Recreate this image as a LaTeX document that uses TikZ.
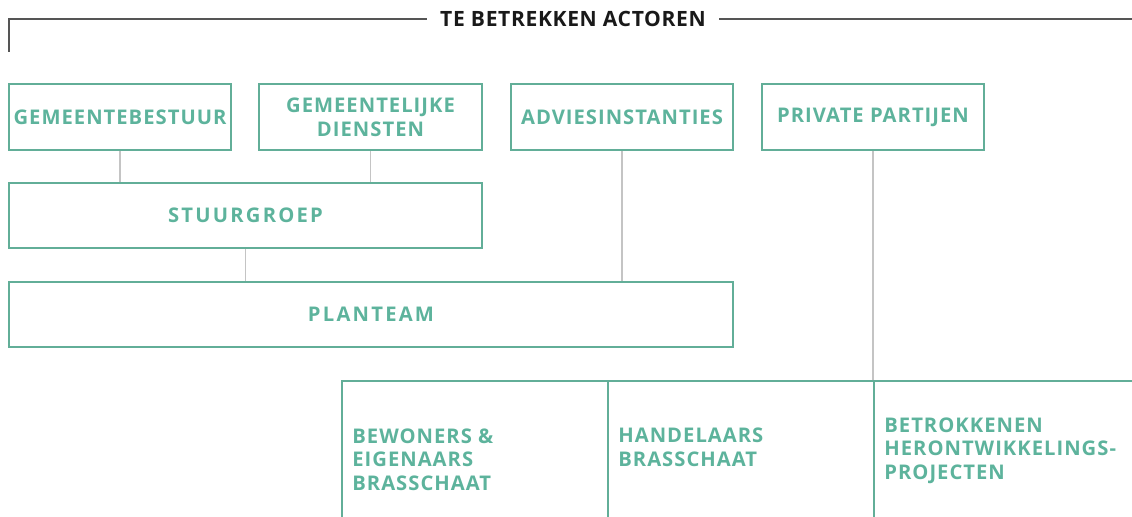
\documentclass[tikz,border=0pt]{standalone}
\usepackage{fontspec}
\newfontfamily\boxfont[LetterSpace=5]{Open Sans}
\newfontfamily\wideboxfont[LetterSpace=11]{Open Sans}
\newfontfamily\titlefont[LetterSpace=3]{Open Sans}
\definecolor{teal1}{HTML}{5DB39C}
\definecolor{tealline}{HTML}{62AE98}
\definecolor{conn}{HTML}{C4C4C4}
\definecolor{hdr}{HTML}{555555}
\tikzset{
  actor/.style={draw=tealline, line width=1.2pt, text=teal1, font=\boxfont\bfseries\fontsize{11.5}{13.6}\selectfont, align=center, inner sep=0pt, minimum height=1.32cm},
  wideactor/.style={actor, font=\wideboxfont\bfseries\fontsize{11.5}{13.6}\selectfont, minimum height=1.3cm},
  lowbox/.style={draw=tealline, line width=1.2pt, inner sep=0pt, anchor=north west, minimum height=4cm},
  lowtext/.style={text=teal1, font=\boxfont\bfseries\fontsize{11.5}{13.6}\selectfont, align=left, anchor=north west, inner sep=0pt},
  link/.style={draw=conn, line width=0.6pt},
}
\begin{document}
\begin{tikzpicture}[x=0.02cm, y=-0.02cm]
\useasboundingbox (0,0) rectangle (1132,517);
\clip (0,0) rectangle (1132,517);
% header
\node[font=\titlefont\bfseries\fontsize{12}{14}\selectfont, text=black!90, inner sep=0pt] (title) at (573,19) {TE BETREKKEN ACTOREN};
\coordinate (hl) at (9,52);
\coordinate (hr) at (1140,19);
\draw[hdr, line width=1.1pt] (hl) |- ([xshift=-13*0.02cm]title.west);
\draw[hdr, line width=1.1pt] ([xshift=13*0.02cm]title.east) -- (hr);
% top row
\node[actor, minimum width=4.44cm] (gb) at (120,117) {GEMEENTEBESTUUR};
\node[actor, minimum width=4.46cm] (gd) at (370.5,117) {GEMEENTELIJKE\\DIENSTEN};
\node[actor, minimum width=4.44cm] (ad) at (622,117) {ADVIESINSTANTIES};
\node[actor, minimum width=4.44cm] (pp) at (873,117) {PRIVATE PARTIJEN};
% middle
\node[wideactor, minimum width=9.46cm] (sg) at (245.5,215.5) {STUURGROEP};
\node[wideactor, minimum width=14.48cm] (pt) at (371,314.5) {PLANTEAM};
% bottom row
\node[lowbox, minimum width=5.32cm] (b1) at (341,380) {};
\node[lowbox, minimum width=5.32cm] (b2) at (607,380) {};
\node[lowbox, minimum width=6cm] (b3) at (873,380) {};
\node[lowtext] (t1) at (352,428) {BEWONERS \&\\EIGENAARS\\BRASSCHAAT};
\node[lowtext] (t2) at (618,428) {HANDELAARS\\BRASSCHAAT};
\node[lowtext] (t3) at (884,417) {BETROKKENEN\\HERONTWIKKELINGS-\\PROJECTEN};
% connectors
\draw[link] (gb.south) -- (gb.south |- sg.north);
\draw[link] (gd.south) -- (gd.south |- sg.north);
\draw[link] (sg.south) -- (sg.south |- pt.north);
\draw[link] (ad.south) -- (ad.south |- pt.north);
\draw[link] (pp.south) -- (b3.north west);
\end{tikzpicture}
\end{document}
